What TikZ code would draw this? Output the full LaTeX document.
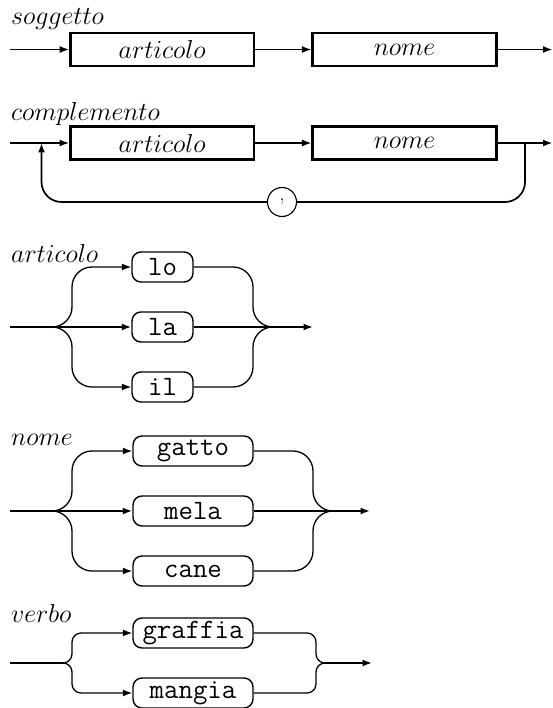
\RequirePackage{fix-cm}
\documentclass[tikz,border=0pt]{standalone}
\usetikzlibrary{arrows.meta}
\tikzset{
  arr/.style={-{Latex[length=9.5pt,width=7pt]}},
  ln/.style={line width=1.7pt},
  crv/.style={line width=1.3pt},
  rectbox/.style={draw,line width=2.6pt,minimum width=183.5pt,minimum height=33pt,inner sep=0pt,font=\fontsize{26}{30}\selectfont},
  tbox/.style={draw,line width=1.4pt,rounded corners=9pt,minimum height=30pt,inner sep=0pt,font=\fontsize{28}{30}\selectfont\ttfamily},
  lbl/.style={anchor=base west,inner sep=0pt,font=\fontsize{26}{30}\selectfont},
  commacirc/.style={draw,circle,line width=1.1pt,minimum size=29pt,inner sep=0pt,font=\fontsize{20}{20}\selectfont},
}
\begin{document}
\begin{tikzpicture}[x=1pt,y=-1pt]
\useasboundingbox (0,0) rectangle (553,708);
% ---------- soggetto
\node[lbl] (lsog) at (11,25) {$soggetto$};
\node[rectbox] (sa) at (162.25,49.5) {$articolo$};
\node[rectbox] (sn) at (404.5,49.5) {$nome$};
\coordinate (s0) at (10,49.5);
\coordinate (s1) at (552.5,49.5);
\draw[ln,arr] (s0) -- (sa);
\draw[ln,arr] (sa) -- (sn);
\draw[ln,arr] (sn) -- (s1);
% ---------- complemento
\node[lbl] (lcom) at (11,121) {$complemento$};
\node[rectbox] (ca) at (162.25,143) {$articolo$};
\node[rectbox] (cn) at (404.5,143) {$nome$};
\coordinate (c0) at (10,143);
\coordinate (cL) at (41.5,143);
\coordinate (cR) at (525,143);
\coordinate (cLb) at (41.5,202);
\coordinate (cRb) at (525,202);
\coordinate (c1) at (552.5,143);
\node[commacirc] (comma) at (282,202) {,};
\draw[ln,arr] (c0) -- (ca);
\draw[ln,arr] (ca) -- (cn);
\draw[ln,arr] (cn) -- (c1);
\draw[ln,rounded corners=20pt] (cR) -- (cRb) -- (comma);
\draw[ln,arr,rounded corners=20pt] (comma) -- (cLb) -- (cL);
% ---------- articolo
\node[lbl] (lart) at (11,262) {$articolo$};
\node[tbox,minimum width=61pt] (lo) at (162.5,267) {lo};
\node[tbox,minimum width=61pt] (la) at (162.5,327) {la};
\node[tbox,minimum width=61pt] (il) at (162.5,387) {il};
\coordinate (a0) at (10,327);
\coordinate (aL) at (50,327);
\coordinate (aLv) at (72,327);
\coordinate (aLt) at (72,267);
\coordinate (aLb) at (72,387);
\coordinate (aRt) at (253,267);
\coordinate (aRb) at (253,387);
\coordinate (aRv) at (253,327);
\coordinate (aR) at (273,327);
\coordinate (a1) at (313,327);
\draw[ln,arr] (a0) -- (la);
\draw[ln,arr] (la) -- (a1);
\draw[crv,arr,rounded corners=20pt] (aL) -- (aLv) -- (aLt) -- (lo);
\draw[crv,arr,rounded corners=20pt] (aL) -- (aLv) -- (aLb) -- (il);
\draw[crv,rounded corners=20pt] (lo) -- (aRt) -- (aRv) -- (aR);
\draw[crv,rounded corners=20pt] (il) -- (aRb) -- (aRv) -- (aR);
% ---------- nome
\node[lbl] (lnom) at (11,445.5) {$nome$};
\node[tbox,minimum width=120pt] (gatto) at (193,451) {gatto};
\node[tbox,minimum width=120pt] (mela) at (193,511) {mela};
\node[tbox,minimum width=120pt] (cane) at (193,571) {cane};
\coordinate (n0) at (10,511);
\coordinate (nL) at (50,511);
\coordinate (nLv) at (72,511);
\coordinate (nLt) at (72,451);
\coordinate (nLb) at (72,571);
\coordinate (nRt) at (313,451);
\coordinate (nRb) at (313,571);
\coordinate (nRv) at (313,511);
\coordinate (nR) at (333,511);
\coordinate (n1) at (370,511);
\draw[ln,arr] (n0) -- (mela);
\draw[ln,arr] (mela) -- (n1);
\draw[crv,arr,rounded corners=20pt] (nL) -- (nLv) -- (nLt) -- (gatto);
\draw[crv,arr,rounded corners=20pt] (nL) -- (nLv) -- (nLb) -- (cane);
\draw[crv,rounded corners=20pt] (gatto) -- (nRt) -- (nRv) -- (nR);
\draw[crv,rounded corners=20pt] (cane) -- (nRb) -- (nRv) -- (nR);
% ---------- verbo
\node[lbl] (lver) at (11,622.5) {$verbo$};
\node[tbox,minimum width=120pt] (graffia) at (193,633) {graffia};
\node[tbox,minimum width=120pt] (mangia) at (193,693) {mangia};
\coordinate (v0) at (10,663);
\coordinate (vL) at (63,663);
\coordinate (vLv) at (72,663);
\coordinate (vLt) at (72,633);
\coordinate (vLb) at (72,693);
\coordinate (vRt) at (316,633);
\coordinate (vRb) at (316,693);
\coordinate (vRv) at (316,663);
\coordinate (vR) at (325,663);
\coordinate (v1) at (372,663);
\draw[ln] (v0) -- (vL);
\draw[ln,arr] (vR) -- (v1);
\draw[crv,arr,rounded corners=9pt] (vL) -- (vLv) -- (vLt) -- (graffia);
\draw[crv,arr,rounded corners=9pt] (vL) -- (vLv) -- (vLb) -- (mangia);
\draw[crv,rounded corners=9pt] (graffia) -- (vRt) -- (vRv) -- (vR);
\draw[crv,rounded corners=9pt] (mangia) -- (vRb) -- (vRv) -- (vR);
\end{tikzpicture}
\end{document}
